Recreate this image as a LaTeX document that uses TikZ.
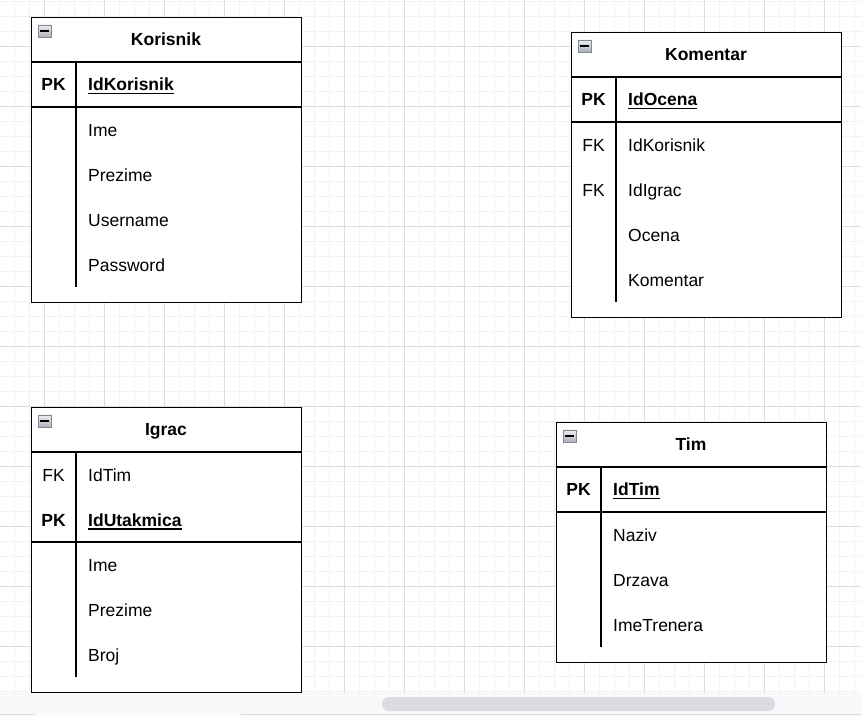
\documentclass[tikz,border=0pt]{standalone}
\usepackage{fontspec}
\setmainfont{Liberation Sans}
\usepackage{tikz}
\usetikzlibrary{calc}

\definecolor{gridminor}{RGB}{242,242,242}
\definecolor{gridmajor}{RGB}{220,220,220}
\definecolor{barback}{RGB}{248,249,250}
\definecolor{barthumb}{RGB}{218,220,224}
\definecolor{iconedge}{RGB}{128,136,152}
\definecolor{icontop}{RGB}{238,238,240}
\definecolor{iconbottom}{RGB}{170,174,182}

% one collapse box in the corner of a table
\newcommand{\collapsebox}[1]{%
  \node[iconbox, anchor=north west] (#1-icon) at ([xshift=7pt,yshift=-7.5pt]#1.north west) {};
  \draw[line width=1.9pt] ([xshift=2.4pt]#1-icon.west) -- ([xshift=-2.4pt]#1-icon.east);}

\begin{document}
\begin{tikzpicture}[x=1pt,y=-1pt,
    every node/.append style={font=\fontsize{17.5}{21}\selectfont},
    table/.style={draw=black, line width=1.3pt, fill=white, anchor=north west,
      minimum width=270pt, inner sep=0pt},
    rule/.style={line width=1.3pt},
    iconbox/.style={draw=iconedge, line width=0.8pt, minimum size=12.5pt, inner sep=0pt,
      top color=icontop, bottom color=iconbottom},
    title/.style={anchor=base, yshift=-6.3pt, inner sep=0pt, font=\fontsize{17.5}{21}\selectfont\bfseries},
    key/.style={anchor=base, yshift=-6.3pt, inner sep=0pt},
    field/.style={anchor=base west, yshift=-6.3pt, inner sep=0pt},
    pkey/.style={field, font=\fontsize{17.5}{21}\selectfont\bfseries},
    keyline/.style={line width=1.5pt}]

\useasboundingbox (0,0) rectangle (861,716);

% canvas grid
\fill[white] (0,0) rectangle (861,693);
\foreach \x in {14.3,29.3,...,861}
  \draw[gridminor, line width=1pt] (\x,0) -- (\x,693);
\foreach \y in {1,16,...,693}
  \draw[gridminor, line width=1pt] (0,\y) -- (861,\y);
\foreach \x in {44.3,104.3,...,861}
  \draw[gridmajor, line width=1pt] (\x,0) -- (\x,693);
\foreach \y in {46,106,...,693}
  \draw[gridmajor, line width=1pt] (0,\y) -- (861,\y);

% scroll bar
\fill[barback] (0,693) rectangle (861,716);
\fill[barthumb, rounded corners=7pt] (382,697) rectangle (775,711);
\draw[gridmajor, line width=0.8pt] (0,714.5) -- (35,714.5) (241,714.5) -- (861,714.5);

% Korisnik
\node[table, minimum height=285pt] (korisnik) at (31,17) {};
\collapsebox{korisnik}
\node[title] (korisnik-title) at (166,39.5) {Korisnik};
\draw[rule] ([yshift=-45pt]korisnik.north west) -- ([yshift=-45pt]korisnik.north east);
\draw[rule] ([yshift=-90pt]korisnik.north west) -- ([yshift=-90pt]korisnik.north east);
\draw[rule] ($(korisnik.north west)+(45,45)$) -- ($(korisnik.north west)+(45,270)$);
\node[key, font=\fontsize{17.5}{21}\selectfont\bfseries] (korisnik-pk) at (53.5,84.5) {PK};
\node[pkey] (korisnik-id) at (88,84.5) {IdKorisnik};
\draw[keyline] ([yshift=-2.5pt]korisnik-id.base west) -- ([yshift=-2.5pt]korisnik-id.base east);
\foreach \f/\y in {Ime/130,Prezime/175,Username/220,Password/265}
  \node[field] (korisnik-\f) at (88,\y) {\f};

% Komentar
\node[table, minimum height=285pt] (komentar) at (571,32) {};
\collapsebox{komentar}
\node[title] (komentar-title) at (706,54.5) {Komentar};
\draw[rule] ([yshift=-45pt]komentar.north west) -- ([yshift=-45pt]komentar.north east);
\draw[rule] ([yshift=-90pt]komentar.north west) -- ([yshift=-90pt]komentar.north east);
\draw[rule] ($(komentar.north west)+(45,45)$) -- ($(komentar.north west)+(45,270)$);
\node[key, font=\fontsize{17.5}{21}\selectfont\bfseries] (komentar-pk) at (593.5,99.5) {PK};
\node[pkey] (komentar-id) at (628,99.5) {IdOcena};
\draw[keyline] ([yshift=-2.5pt]komentar-id.base west) -- ([yshift=-2.5pt]komentar-id.base east);
\node[key] (komentar-fk1) at (593.5,145) {FK};
\node[key] (komentar-fk2) at (593.5,190) {FK};
\foreach \f/\y in {IdKorisnik/145,IdIgrac/190,Ocena/235,Komentar/280}
  \node[field] (komentar-\f) at (628,\y) {\f};

% Igrac
\node[table, minimum height=285pt] (igrac) at (31,407) {};
\collapsebox{igrac}
\node[title] (igrac-title) at (166,429.5) {Igrac};
\draw[rule] ([yshift=-45pt]igrac.north west) -- ([yshift=-45pt]igrac.north east);
\draw[rule] ([yshift=-135pt]igrac.north west) -- ([yshift=-135pt]igrac.north east);
\draw[rule] ($(igrac.north west)+(45,45)$) -- ($(igrac.north west)+(45,270)$);
\node[key] (igrac-fk) at (53.5,475) {FK};
\node[field] (igrac-IdTim) at (88,475) {IdTim};
\node[key, font=\fontsize{17.5}{21}\selectfont\bfseries] (igrac-pk) at (53.5,520) {PK};
\node[pkey] (igrac-id) at (88,520) {IdUtakmica};
\draw[keyline] ([yshift=-2.5pt]igrac-id.base west) -- ([yshift=-2.5pt]igrac-id.base east);
\foreach \f/\y in {Ime/565,Prezime/610,Broj/655}
  \node[field] (igrac-\f) at (88,\y) {\f};

% Tim
\node[table, minimum height=240pt] (tim) at (556,422) {};
\collapsebox{tim}
\node[title] (tim-title) at (691,444.5) {Tim};
\draw[rule] ([yshift=-45pt]tim.north west) -- ([yshift=-45pt]tim.north east);
\draw[rule] ([yshift=-90pt]tim.north west) -- ([yshift=-90pt]tim.north east);
\draw[rule] ($(tim.north west)+(45,45)$) -- ($(tim.north west)+(45,225)$);
\node[key, font=\fontsize{17.5}{21}\selectfont\bfseries] (tim-pk) at (578.5,489.5) {PK};
\node[pkey] (tim-id) at (613,489.5) {IdTim};
\draw[keyline] ([yshift=-2.5pt]tim-id.base west) -- ([yshift=-2.5pt]tim-id.base east);
\foreach \f/\y in {Naziv/535,Drzava/580,ImeTrenera/625}
  \node[field] (tim-\f) at (613,\y) {\f};

\end{tikzpicture}
\end{document}
